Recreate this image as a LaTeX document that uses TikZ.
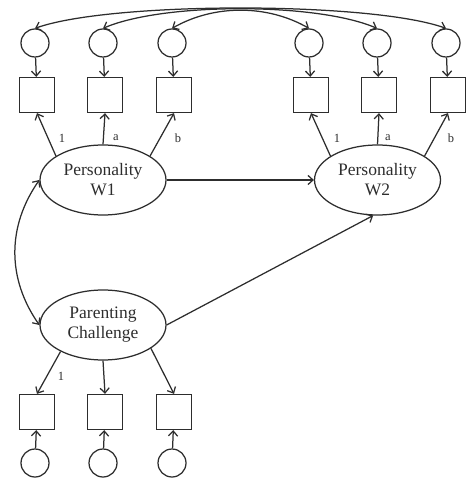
\documentclass[tikz,border=0pt]{standalone}
\usepackage{fontspec}
\setmainfont{Liberation Serif}
\usepackage{tikz}
\usetikzlibrary{arrows,arrows.meta,shapes,positioning,calc}
\definecolor{semInk}{RGB}{45,45,45}
\tikzstyle{latent}=[ellipse, draw=semInk, line width=0.75pt, text=semInk, minimum width=75.6pt, minimum height=42pt, inner sep=0pt, align=center, font=\fontsize{10.5}{12}\selectfont]
\tikzstyle{manifest}=[rectangle, draw=semInk, line width=0.75pt, minimum size=21pt, inner sep=0pt]
\tikzstyle{resid}=[circle, draw=semInk, line width=0.75pt, minimum size=16.8pt, inner sep=0pt]
\tikzstyle{semarrow}=[->, >={Straight Barb[length=3pt,width=5.5pt]}, line width=0.75pt, color=semInk]
\tikzstyle{covarrow}=[<->, >={Straight Barb[length=3pt,width=5.5pt]}, line width=0.75pt, color=semInk]
\tikzstyle{loadlabel}=[font=\fontsize{7.5}{9}\selectfont, text=semInk, inner sep=0pt]

\begin{document}
\begin{tikzpicture}[x=0.6pt, y=-0.6pt]
        \useasboundingbox (0,0) rectangle (465,481);

        % Latente Variablen
        \node[latent] (w1) at (103,180) {Personality\\W1};
        \node[latent] (w2) at (377.5,180) {Personality\\W2};
        \node[latent] (pc) at (103,325) {Parenting\\Challenge};

        % Indikatoren Welle 1 und 2
        \node[resid] (e1) at (35,43) {};
        \node[resid] (e2) at (103,43) {};
        \node[resid] (e3) at (172,43) {};
        \node[resid] (e4) at (309,43) {};
        \node[resid] (e5) at (377,43) {};
        \node[resid] (e6) at (446,43) {};
        \node[manifest] (x1) at (37,95) {};
        \node[manifest] (x2) at (105,95) {};
        \node[manifest] (x3) at (174,95) {};
        \node[manifest] (x4) at (311,95) {};
        \node[manifest] (x5) at (379,95) {};
        \node[manifest] (x6) at (448,95) {};

        % Indikatoren Parenting
        \node[manifest] (p1) at (37,412) {};
        \node[manifest] (p2) at (105,412) {};
        \node[manifest] (p3) at (174,412) {};
        \node[resid] (d1) at (35,463) {};
        \node[resid] (d2) at (103,463) {};
        \node[resid] (d3) at (172,463) {};

        \draw[semarrow] (e1) -- (x1);
        \draw[semarrow] (e2) -- (x2);
        \draw[semarrow] (e3) -- (x3);
        \draw[semarrow] (e4) -- (x4);
        \draw[semarrow] (e5) -- (x5);
        \draw[semarrow] (e6) -- (x6);
        \draw[semarrow] (d1) -- (p1);
        \draw[semarrow] (d2) -- (p2);
        \draw[semarrow] (d3) -- (p3);

        % Ladungen
        \draw[semarrow] (w1.153) -- (x1.south);
        \draw[semarrow] (w1.north) -- (x2.south);
        \draw[semarrow] (w1.27) -- (x3.south);
        \draw[semarrow] (w2.153) -- (x4.south);
        \draw[semarrow] (w2.north) -- (x5.south);
        \draw[semarrow] (w2.27) -- (x6.south);
        \draw[semarrow] (pc.212) -- (p1.north);
        \draw[semarrow] (pc.south) -- (p2.north);
        \draw[semarrow] (pc.334) -- (p3.north);

        \node[loadlabel] (l1) at (62,138) {1};
        \node[loadlabel] (la) at (116,138) {a};
        \node[loadlabel] (lb) at (178,138) {b};
        \node[loadlabel] (r1) at (337,138) {1};
        \node[loadlabel] (ra) at (388,138) {a};
        \node[loadlabel] (rb) at (451,138) {b};
        \node[loadlabel] (q1) at (61,376) {1};

        % Pfade
        \draw[semarrow] (w1) -- (w2);
        \draw[semarrow] (pc.east) -- (w2.263);
        \draw[covarrow] (w1.west) to[out=235, in=125, looseness=1] (pc.west);

        % Residualkovarianzen
        \draw[covarrow] (e1.north) .. controls +(75,-27) and +(-75,-27) .. (e6.north);
        \draw[covarrow] (e2.north) .. controls +(60,-26) and +(-60,-26) .. (e5.north);
        \draw[covarrow] (e3.north) .. controls +(42,-24) and +(-42,-24) .. (e4.north);
      \end{tikzpicture}
\end{document}
